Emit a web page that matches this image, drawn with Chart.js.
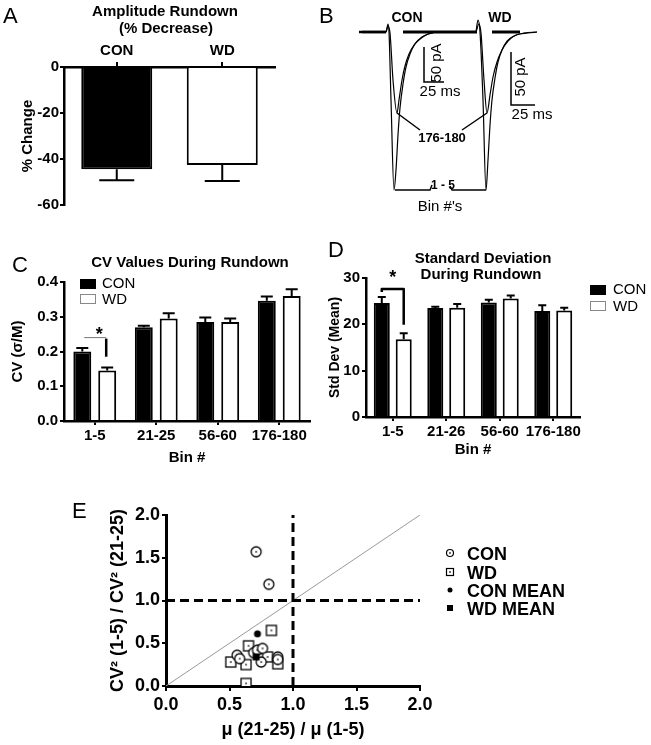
<!DOCTYPE html>
<html><head><meta charset="utf-8">
<script src="https://cdn.jsdelivr.net/npm/chart.js@4.4.1/dist/chart.umd.min.js"></script>
<style>
html,body{margin:0;padding:0;background:#fff;}
body{width:651px;height:745px;position:relative;overflow:hidden;}
canvas{position:absolute;}
</style></head><body>
<canvas id="cA" width="320" height="230" style="left:0px;top:0px"></canvas>
<canvas id="cB" width="255" height="215" style="left:315px;top:0px"></canvas>
<canvas id="cC" width="330" height="270" style="left:0px;top:240px"></canvas>
<canvas id="cD" width="329" height="270" style="left:322px;top:240px"></canvas>
<canvas id="cE" width="651" height="245" style="left:0px;top:500px"></canvas>
<script>
// ---------------- DATA ----------------
// Panel A
const ampGroups = ['CON', 'WD'];
const ampMean = [-44.5, -42.6];
const ampSem = [4.7, 7.0];
const ampTicks = [0, -20, -40, -60];

// Panel B (traces: time units, current units; baseline = 0)
const con15 = [[44,0],[71,0],[73,8],[74,0],[76,-68],[79,-158],[81,-138],[83,-103],[85,-76],[88,-52],[91,-35],[95,-22],[100,-12],[107,-5],[117,-1],[130,0],[161,0]];
const con176 = [[47,0],[71,0],[73,6],[75,-1],[78,-48],[82,-81],[84,-68],[87,-48],[90,-34],[94,-22],[99,-13],[105,-7],[113,-2],[125,0],[161,0]];
const wd15 = [[161,0],[163,12],[165,0],[168,-68],[171,-158],[173,-128],[175,-93],[177,-68],[180,-46],[183,-30],[187,-18],[192,-9],[199,-4],[209,-1],[222,0]];
const wd176 = [[161,0],[164,8],[166,-1],[169,-48],[172,-81],[175,-63],[178,-45],[182,-30],[187,-18],[193,-9],[201,-3],[213,-1],[222,0]];

// Panel C
const binsC = ['1-5', '21-25', '56-60', '176-180'];
const cvCon = [0.200, 0.270, 0.285, 0.346];
const cvConSem = [0.010, 0.004, 0.013, 0.012];
const cvWd = [0.145, 0.295, 0.285, 0.360];
const cvWdSem = [0.009, 0.015, 0.010, 0.019];

// Panel D
const binsD = ['1-5', '21-26', '56-60', '176-180'];
const sdCon = [24.6, 23.5, 24.7, 22.9];
const sdConSem = [1.3, 0.3, 0.6, 1.2];
const sdWd = [16.8, 23.6, 25.6, 23.0];
const sdWdSem = [1.3, 0.8, 0.6, 0.6];

// Panel E
const conX = [0.71, 0.81, 0.56, 0.58, 0.69, 0.72, 0.76, 0.75, 0.88, 0.88];
const conY = [1.57, 1.19, 0.36, 0.32, 0.39, 0.42, 0.44, 0.28, 0.34, 0.31];
const wdX = [0.83, 0.65, 0.51, 0.63, 0.80, 0.88, 0.63];
const wdY = [0.65, 0.47, 0.28, 0.25, 0.34, 0.26, 0.03];
const conMean = [0.72, 0.61];
const wdMean = [0.71, 0.34];
const refValue = 1.0;
const axisMaxE = 2.0;

// ---------------- HELPERS ----------------
const FF = '"Liberation Sans", Arial, Helvetica, sans-serif';
const bold = px => `bold ${px}px ${FF}`;
const reg = px => `${px}px ${FF}`;
Chart.defaults.font.family = FF;
Chart.defaults.color = '#000';

function textLayer(items) {
  return { id: 'texts', afterDraw(chart) {
    const ctx = chart.ctx;
    items.forEach(t => {
      ctx.save();
      ctx.font = t.font; ctx.fillStyle = t.color || '#000';
      ctx.textAlign = t.align || 'center'; ctx.textBaseline = t.baseline || 'alphabetic';
      ctx.translate(t.x, t.y); if (t.rot) ctx.rotate(t.rot);
      ctx.fillText(t.text, 0, 0); ctx.restore();
    });
  }};
}

const errorBars = { id: 'errorBars', afterDatasetsDraw(chart, args, opts) {
  const ctx = chart.ctx, ys = chart.scales.y;
  chart.data.datasets.forEach((ds, i) => {
    if (!ds.errors) return;
    chart.getDatasetMeta(i).data.forEach((bar, j) => {
      const v = ds.data[j], e = ds.errors[j];
      const end = ys.getPixelForValue(v + Math.sign(v) * e);
      ctx.save(); ctx.strokeStyle = '#000'; ctx.lineWidth = opts.width || 2;
      ctx.beginPath(); ctx.moveTo(bar.x, bar.y); ctx.lineTo(bar.x, end);
      ctx.moveTo(bar.x - opts.cap / 2, end); ctx.lineTo(bar.x + opts.cap / 2, end);
      ctx.stroke(); ctx.restore();
    });
  });
}};

function legendBoxes(items) {
  return { id: 'legendBoxes', afterDraw(chart) {
    const ctx = chart.ctx;
    items.forEach(it => {
      ctx.save();
      ctx.fillStyle = it.fill; ctx.fillRect(it.x, it.y, it.w, it.h);
      if (it.stroke) { ctx.strokeStyle = it.stroke; ctx.lineWidth = 1; ctx.strokeRect(it.x + 0.5, it.y + 0.5, it.w - 1, it.h - 1); }
      ctx.font = it.font; ctx.fillStyle = '#000'; ctx.textAlign = 'left'; ctx.textBaseline = 'middle';
      ctx.fillText(it.label, it.tx, it.ty);
      ctx.restore();
    });
  }};
}

const axisTicks = (len) => ({ drawOnChartArea: false, drawTicks: true, tickLength: len, color: '#000', lineWidth: 2, offset: false });
const axisBorder = (w) => ({ display: true, color: '#000', width: w });
const base = { responsive: false, animation: false, events: [] };

// ---------------- PANEL A ----------------
new Chart(document.getElementById('cA'), {
  type: 'bar',
  data: { labels: ampGroups, datasets: [{
    data: ampMean, errors: ampSem,
    backgroundColor: ['#000', '#fff'], borderColor: '#000', borderWidth: 2,
    categoryPercentage: 1, barPercentage: 0.673
  }]},
  options: { ...base,
    layout: { padding: { left: 0, top: 0, right: 45, bottom: 25 } },
    plugins: { legend: { display: false }, tooltip: { enabled: false }, errorBars: { cap: 35, width: 2 } },
    scales: {
      x: { position: 'top', grid: axisTicks(5), border: axisBorder(2.5),
           ticks: { font: { size: 15, weight: 'bold' }, color: '#000', padding: 2, maxRotation: 0 },
           afterFit: s => { s.height = 67; } },
      y: { min: -60, max: 0, grid: axisTicks(4), border: axisBorder(2.5),
           afterBuildTicks: s => { s.ticks = ampTicks.map(v => ({ value: v })); },
           ticks: { font: { size: 15, weight: 'bold' }, color: '#000', padding: 1 },
           title: { display: true, text: '% Change', font: { size: 15, weight: 'bold' }, color: '#000', padding: { top: 19 } },
           afterFit: s => { s.width = 64; } }
    }
  },
  plugins: [errorBars, textLayer([
    { text: 'A', x: 3, y: 23, font: reg(22), align: 'left' },
    { text: 'Amplitude Rundown', x: 165, y: 16, font: bold(15) },
    { text: '(% Decrease)', x: 166, y: 33, font: bold(15) }
  ])]
});

// ---------------- PANEL B ----------------
const trace = arr => ({
  data: arr.map(([x, y]) => ({ x, y })), showLine: true, borderColor: '#000', borderWidth: 1.2,
  pointRadius: 0, cubicInterpolationMode: 'monotone',
  segment: { borderWidth: c => (Math.abs(c.p0.parsed.y) < 1.5 && Math.abs(c.p1.parsed.y) < 1.5 && c.p1.parsed.x < 80) ? 2.5 : 1.2 }
});
const bAnnot = { id: 'bAnnot', afterDatasetsDraw(chart) {
  const ctx = chart.ctx, xs = chart.scales.x, ys = chart.scales.y;
  const P = (x, y) => [xs.getPixelForValue(x), ys.getPixelForValue(y)];
  const seg = (pts, w) => { ctx.save(); ctx.lineWidth = w; ctx.strokeStyle = '#000'; ctx.beginPath();
    pts.forEach((p, i) => { const q = P(p[0], p[1]); i ? ctx.lineTo(q[0], q[1]) : ctx.moveTo(q[0], q[1]); }); ctx.stroke(); ctx.restore(); };
  // thick bars on baseline
  seg([[88, 0], [162, 0]], 3);
  seg([[177, 0], [205, 0]], 3);
  // scale bars
  seg([[109, -15], [109, -50], [129, -50]], 1.5);
  seg([[196, -20], [196, -73], [220, -73]], 1.5);
  // pointers 176-180
  seg([[82, -81], [105, -98]], 1.5);
  seg([[172, -81], [147, -98]], 1.5);
  // bracket 1-5
  seg([[80, -158], [115, -158], [117, -153]], 1.5);
  seg([[135, -154], [137, -158], [171, -158]], 1.5);
}};
new Chart(document.getElementById('cB'), {
  type: 'scatter',
  data: { datasets: [trace(con15), trace(con176), trace(wd15), trace(wd176)] },
  options: { ...base, layout: { padding: 0 },
    plugins: { legend: { display: false }, tooltip: { enabled: false } },
    scales: { x: { type: 'linear', display: false, min: 0, max: 255 },
              y: { type: 'linear', display: false, min: -183, max: 32 } } },
  plugins: [bAnnot, textLayer([
    { text: 'B', x: 4, y: 23, font: reg(22), align: 'left' },
    { text: 'CON', x: 92, y: 22, font: bold(14) },
    { text: 'WD', x: 185, y: 22, font: bold(14) },
    { text: '50 pA', x: 122, y: 63, font: reg(15), baseline: 'middle', rot: -Math.PI / 2 },
    { text: '25 ms', x: 125, y: 96, font: reg(15) },
    { text: '50 pA', x: 206, y: 77, font: reg(15), baseline: 'middle', rot: -Math.PI / 2 },
    { text: '25 ms', x: 217, y: 119, font: reg(15) },
    { text: '176-180', x: 127, y: 142, font: bold(13) },
    { text: '1 - 5', x: 128, y: 189, font: bold(12) },
    { text: "Bin #'s", x: 125, y: 211, font: reg(15) }
  ])]
});

// ---------------- PANEL C ----------------
const sigC = { id: 'sigC', afterDatasetsDraw(chart) {
  const ctx = chart.ctx, ys = chart.scales.y;
  const a = chart.getDatasetMeta(0).data[0].x, b = chart.getDatasetMeta(1).data[0].x;
  const yh = ys.getPixelForValue(0.24);
  ctx.save();
  ctx.strokeStyle = '#777'; ctx.lineWidth = 1;
  ctx.beginPath(); ctx.moveTo(a + 2, yh); ctx.lineTo(b - 1, yh); ctx.stroke();
  ctx.strokeStyle = '#000'; ctx.lineWidth = 2.5;
  ctx.beginPath(); ctx.moveTo(b - 1, yh + 1); ctx.lineTo(b - 1, ys.getPixelForValue(0.185)); ctx.stroke();
  ctx.font = bold(18); ctx.textAlign = 'center'; ctx.textBaseline = 'alphabetic'; ctx.fillStyle = '#000';
  ctx.fillText('*', b - 8, ys.getPixelForValue(0.262) + 10);
  ctx.restore();
}};
new Chart(document.getElementById('cC'), {
  type: 'bar',
  data: { labels: binsC, datasets: [
    { label: 'CON', data: cvCon, errors: cvConSem, backgroundColor: '#000', borderColor: '#000', borderWidth: 2, categoryPercentage: 0.81, barPercentage: 0.72 },
    { label: 'WD', data: cvWd, errors: cvWdSem, backgroundColor: '#fff', borderColor: '#000', borderWidth: 2, categoryPercentage: 0.81, barPercentage: 0.72 }
  ]},
  options: { ...base,
    layout: { padding: { left: 0, top: 42, right: 20, bottom: 42 } },
    plugins: { legend: { display: false }, tooltip: { enabled: false }, errorBars: { cap: 12, width: 2 } },
    scales: {
      x: { grid: axisTicks(4), border: axisBorder(2.5),
           ticks: { font: { size: 15, weight: 'bold' }, color: '#000', padding: 2, maxRotation: 0, autoSkip: false },
           title: { display: true, text: 'Bin #', font: { size: 15, weight: 'bold' }, color: '#000', padding: { top: 0, bottom: 1 } },
           afterFit: s => { s.height = 47; } },
      y: { min: 0, max: 0.4, grid: axisTicks(4), border: axisBorder(2.5),
           ticks: { stepSize: 0.1, font: { size: 15, weight: 'bold' }, color: '#000', padding: 2, callback: v => v.toFixed(1) },
           title: { display: true, text: 'CV (σ/M)', font: { size: 15, weight: 'bold' }, color: '#000', padding: { top: 9 } },
           afterFit: s => { s.width = 64; } }
    }
  },
  plugins: [errorBars, sigC, legendBoxes([
    { x: 80, y: 39, w: 16, h: 10, fill: '#000', label: 'CON', tx: 102, ty: 44, font: reg(15) },
    { x: 80, y: 54, w: 16, h: 10, fill: '#fff', stroke: '#888', label: 'WD', tx: 102, ty: 60, font: reg(15) }
  ]), textLayer([
    { text: 'C', x: 12, y: 32, font: reg(22), align: 'left' },
    { text: 'CV Values During Rundown', x: 190, y: 27, font: bold(15) }
  ])]
});

// ---------------- PANEL D ----------------
const sigD = { id: 'sigD', afterDatasetsDraw(chart) {
  const ctx = chart.ctx, ys = chart.scales.y;
  const a = chart.getDatasetMeta(0).data[0].x, b = chart.getDatasetMeta(1).data[0].x;
  const yh = ys.getPixelForValue(27.6);
  ctx.save(); ctx.strokeStyle = '#000'; ctx.lineWidth = 2.5; ctx.lineJoin = 'round';
  ctx.beginPath(); ctx.moveTo(a, ys.getPixelForValue(27.0)); ctx.lineTo(a, yh); ctx.lineTo(b, yh);
  ctx.lineTo(b, ys.getPixelForValue(19.9)); ctx.stroke();
  ctx.font = bold(18); ctx.textAlign = 'center'; ctx.fillStyle = '#000';
  ctx.fillText('*', (a + b) / 2, ys.getPixelForValue(31.1) + 10);
  ctx.restore();
}};
new Chart(document.getElementById('cD'), {
  type: 'bar',
  data: { labels: binsD, datasets: [
    { label: 'CON', data: sdCon, errors: sdConSem, backgroundColor: '#000', borderColor: '#000', borderWidth: 2, categoryPercentage: 0.82, barPercentage: 0.73 },
    { label: 'WD', data: sdWd, errors: sdWdSem, backgroundColor: '#fff', borderColor: '#000', borderWidth: 2, categoryPercentage: 0.82, barPercentage: 0.73 }
  ]},
  options: { ...base,
    layout: { padding: { left: 0, top: 38, right: 71, bottom: 51 } },
    plugins: { legend: { display: false }, tooltip: { enabled: false }, errorBars: { cap: 8, width: 2 } },
    scales: {
      x: { grid: axisTicks(4), border: axisBorder(2.5),
           ticks: { font: { size: 15, weight: 'bold' }, color: '#000', padding: 2, maxRotation: 0, autoSkip: false },
           title: { display: true, text: 'Bin #', font: { size: 15, weight: 'bold' }, color: '#000', padding: { top: 0, bottom: 0 } },
           afterFit: s => { s.height = 42; } },
      y: { min: 0, max: 30, grid: axisTicks(4), border: axisBorder(2.5),
           ticks: { stepSize: 10, font: { size: 15, weight: 'bold' }, color: '#000', padding: 2 },
           title: { display: true, text: 'Std Dev (Mean)', font: { size: 14, weight: 'bold' }, color: '#000', padding: { top: 5 } },
           afterFit: s => { s.width = 44; } }
    }
  },
  plugins: [errorBars, sigD, legendBoxes([
    { x: 268, y: 45, w: 16, h: 10, fill: '#000', label: 'CON', tx: 291, ty: 50, font: reg(15) },
    { x: 268, y: 61, w: 16, h: 10, fill: '#fff', stroke: '#888', label: 'WD', tx: 291, ty: 67, font: reg(15) }
  ]), textLayer([
    { text: 'D', x: 6, y: 17, font: reg(22), align: 'left' },
    { text: 'Standard Deviation', x: 161, y: 23, font: bold(15) },
    { text: 'During Rundown', x: 159, y: 39, font: bold(15) }
  ])]
});

// ---------------- PANEL E ----------------
function marker(kind, size, lw) {
  const s = Math.ceil(size + lw * 2 + 2) + (Math.ceil(size + lw * 2 + 2) % 2);
  const c = document.createElement('canvas'); c.width = s; c.height = s;
  const g = c.getContext('2d'); const m = s / 2;
  g.lineWidth = lw; g.strokeStyle = '#000'; g.fillStyle = '#fff';
  if (kind === 'circle') { g.beginPath(); g.arc(m, m, size / 2, 0, Math.PI * 2); g.fill(); g.stroke(); }
  if (kind === 'square') { g.fillRect(m - size / 2, m - size / 2, size, size); g.strokeRect(m - size / 2, m - size / 2, size, size); }
  if (kind === 'dot') { g.fillStyle = '#000'; g.beginPath(); g.arc(m, m, size / 2, 0, Math.PI * 2); g.fill(); }
  if (kind === 'block') { g.fillStyle = '#000'; g.fillRect(m - size / 2, m - size / 2, size, size); }
  if (kind === 'circle' || kind === 'square') { g.fillStyle = '#000'; g.fillRect(m - 0.75, m - 0.75, 1.5, 1.5); }
  return c;
}
const mCon = marker('circle', 10, 1.3), mWd = marker('square', 10, 1.3);
const mConMean = marker('dot', 7, 0), mWdMean = marker('block', 7, 0);
const lCon = marker('circle', 7, 1.2), lWd = marker('square', 7, 1.2);
const lConMean = marker('dot', 5, 0), lWdMean = marker('block', 6, 0);

const legendE = { id: 'legendE', afterDraw(chart) {
  const ctx = chart.ctx;
  const rows = [[lCon, 'CON', 53], [lWd, 'WD', 72], [lConMean, 'CON MEAN', 90], [lWdMean, 'WD MEAN', 108]];
  ctx.save(); ctx.font = bold(18); ctx.fillStyle = '#000'; ctx.textAlign = 'left'; ctx.textBaseline = 'alphabetic';
  rows.forEach(([img, t, y]) => {
    ctx.drawImage(img, 450 - img.width / 2, y - img.height / 2);
    ctx.fillText(t, 467, y + 6.5);
  });
  ctx.restore();
}};

const lineDs = (pts, color, w, dash) => ({ data: pts, showLine: true, borderColor: color, borderWidth: w, borderDash: dash || [], pointRadius: 0, fill: false });
new Chart(document.getElementById('cE'), {
  type: 'scatter',
  data: { datasets: [
    { label: 'CON MEAN', data: [{ x: conMean[0], y: conMean[1] }], pointStyle: mConMean, pointRadius: 4, order: 1 },
    { label: 'WD MEAN', data: [{ x: wdMean[0], y: wdMean[1] }], pointStyle: mWdMean, pointRadius: 4, order: 2 },
    { label: 'CON', data: conX.map((x, i) => ({ x, y: conY[i] })), pointStyle: mCon, pointRadius: 5, order: 3 },
    { label: 'WD', data: wdX.map((x, i) => ({ x, y: wdY[i] })), pointStyle: mWd, pointRadius: 5, order: 4 },
    { ...lineDs([{ x: 0, y: refValue }, { x: axisMaxE, y: refValue }], '#000', 3, [9, 5]), order: 5 },
    { ...lineDs([{ x: refValue, y: 0 }, { x: refValue, y: axisMaxE }], '#000', 3, [9, 5]), order: 6 },
    { ...lineDs([{ x: 0, y: 0 }, { x: axisMaxE, y: axisMaxE }], '#9a9a9a', 1), order: 7 }
  ]},
  options: { ...base,
    layout: { padding: { left: 100, top: 15, right: 231, bottom: 0 } },
    plugins: { legend: { display: false }, tooltip: { enabled: false } },
    scales: {
      x: { type: 'linear', min: 0, max: axisMaxE, grid: axisTicks(5), border: axisBorder(3),
           ticks: { stepSize: 0.5, font: { size: 18, weight: 'bold' }, color: '#000', padding: 3, callback: v => v.toFixed(1) },
           title: { display: true, text: 'μ (21-25) / μ (1-5)', font: { size: 18, weight: 'bold' }, color: '#000', padding: { top: 0, bottom: 4 } },
           afterFit: s => { s.height = 59; } },
      y: { type: 'linear', min: 0, max: axisMaxE, grid: axisTicks(4), border: axisBorder(3),
           ticks: { stepSize: 0.5, font: { size: 18, weight: 'bold' }, color: '#000', padding: 2, callback: v => v.toFixed(1) },
           title: { display: true, text: 'CV² (1-5) / CV² (21-25)', font: { size: 18, weight: 'bold' }, color: '#000', padding: { top: 7 } },
           afterFit: s => { s.width = 66; } }
    }
  },
  plugins: [legendE, textLayer([{ text: 'E', x: 72, y: 18, font: reg(22), align: 'left' }])]
});
</script>
</body></html>
